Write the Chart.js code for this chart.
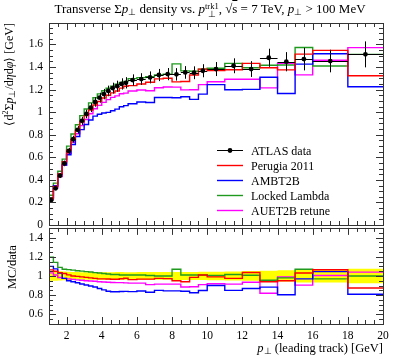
<!DOCTYPE html>
<html>
<head>
<meta charset="utf-8">
<script src="https://cdn.jsdelivr.net/npm/chart.js@4.4.1/dist/chart.umd.min.js"></script>
<style>
  body { margin: 0; background: #fff; }
  #wrap { position: relative; width: 397px; height: 358px; font-family: "Liberation Serif", serif; color: #000; overflow: hidden; }
  canvas { position: absolute; left: 0; }
  #title { position: absolute; top: 1px; left: 0; width: 420px; text-align: center; font-size: 13px; white-space: nowrap; }
  #xt { position: absolute; right: 14px; top: 341px; font-size: 12.5px; white-space: nowrap; }
  #yt { position: absolute; left: 2px; top: 223px; width: 200px; text-align: right; font-size: 12px; white-space: nowrap;
        transform-origin: 0 0; transform: rotate(-90deg); }
  #rt { position: absolute; left: 5px; top: 289px; width: 80px; text-align: left; font-size: 12.5px; white-space: nowrap;
        transform-origin: 0 0; transform: rotate(-90deg); }
  sub { font-size: 8.5px; vertical-align: -2px; line-height: 0; }
  sup { font-size: 8px; vertical-align: 5px; line-height: 0; }
  .ss { display: inline-block; vertical-align: -4px; line-height: 8px; font-size: 8.5px; }
  .ss span { display: block; }
  .ov { text-decoration: overline; }
</style>
</head>
<body>
<div id="wrap">
  <canvas id="main" width="397" height="245" style="top:0"></canvas>
  <canvas id="ratio" width="397" height="143" style="top:215px"></canvas>
  <div id="title">Transverse &Sigma;<i>p</i><sub>&perp;</sub> density vs. <i>p</i><span class="ss"><span>trk1</span><span>&perp;</span></span>, &radic;<span class="ov">s</span> = 7 TeV, <i>p</i><sub>&perp;</sub> &gt; 100 MeV</div>
  <div id="yt">&lang;d<sup>2</sup>&Sigma;<i>p</i><sub>&perp;</sub>/d<i>&eta;</i>d<i>&phi;</i>&rang; [GeV]</div>
  <div id="rt">MC/data</div>
  <div id="xt"><i>p</i><sub>&perp;</sub> (leading track) [GeV]</div>
</div>
<script>
// bin edges of leading track pT [GeV]
const ptEdges = [1.0, 1.25, 1.5, 1.75, 2.0, 2.25, 2.5, 2.75, 3.0, 3.25, 3.5, 3.75, 4.0, 4.25, 4.5, 4.75, 5.0, 5.25, 5.5,
                 6.0, 6.5, 7.0, 7.5, 8.0, 8.5, 9.0, 9.5, 10, 11, 12, 13, 14, 15, 16, 18, 20];

const atlasData = [0.221, 0.325, 0.437, 0.546, 0.656, 0.760, 0.843, 0.923, 0.984, 1.040, 1.090, 1.128, 1.160, 1.188, 1.213, 1.230, 1.250, 1.260,
                   1.284, 1.293, 1.308, 1.329, 1.337, 1.335, 1.352, 1.349, 1.367, 1.382, 1.411, 1.382, 1.482, 1.447, 1.470, 1.453, 1.512];
const atlasErr = [0.011, 0.016, 0.021, 0.025, 0.028, 0.031, 0.034, 0.036, 0.038, 0.040, 0.042, 0.044, 0.046, 0.047, 0.048, 0.049, 0.050, 0.050,
                  0.051, 0.052, 0.053, 0.054, 0.054, 0.055, 0.056, 0.057, 0.058, 0.062, 0.066, 0.070, 0.080, 0.085, 0.100, 0.100, 0.115];

const perugia2011 = [0.235, 0.341, 0.452, 0.560, 0.663, 0.760, 0.839, 0.914, 0.969, 1.019, 1.063, 1.094, 1.125, 1.150, 1.171, 1.187, 1.213, 1.229,
                     1.235, 1.250, 1.265, 1.295, 1.300, 1.268, 1.271, 1.329, 1.381, 1.368, 1.376, 1.432, 1.393, 1.375, 1.514, 1.547, 1.323];
const ambt2b = [0.243, 0.349, 0.450, 0.532, 0.623, 0.714, 0.784, 0.845, 0.891, 0.931, 0.965, 0.981, 0.992, 0.998, 1.013, 1.027, 1.048, 1.058,
                1.075, 1.090, 1.086, 1.130, 1.130, 1.128, 1.136, 1.113, 1.160, 1.244, 1.199, 1.202, 1.309, 1.165, 1.426, 1.518, 1.225];
const lockedLambda = [0.264, 0.371, 0.476, 0.584, 0.699, 0.806, 0.889, 0.969, 1.028, 1.082, 1.128, 1.162, 1.189, 1.212, 1.231, 1.248, 1.263, 1.273,
                      1.297, 1.306, 1.315, 1.329, 1.337, 1.428, 1.366, 1.362, 1.381, 1.389, 1.432, 1.393, 1.415, 1.418, 1.573, 1.409, 1.512];
const auet2bRetune = [0.228, 0.328, 0.430, 0.532, 0.636, 0.733, 0.809, 0.881, 0.935, 0.986, 1.030, 1.060, 1.087, 1.111, 1.131, 1.144, 1.163, 1.169,
                      1.188, 1.196, 1.190, 1.216, 1.223, 1.222, 1.197, 1.198, 1.244, 1.269, 1.291, 1.291, 1.215, 1.433, 1.330, 1.460, 1.572];

const mainYTicks = [0, 0.2, 0.4, 0.6, 0.8, 1, 1.2, 1.4, 1.6];
const ratioYTicks = [0.6, 0.8, 1, 1.2, 1.4];
const xTicks = [2, 4, 6, 8, 10, 12, 14, 16, 18, 20];

const FONT = '"Liberation Serif", serif';
const binCentres = atlasData.map((v, i) => (ptEdges[i] + ptEdges[i + 1]) / 2);

function steps(values) {
    let pts = values.map((v, i) => ({x: ptEdges[i], y: v}));
    pts.push({x: ptEdges[ptEdges.length - 1], y: values[values.length - 1]});
    return pts;
}

function toRatio(values) {
    return values.map((v, i) => v / atlasData[i]);
}

function mcLine(label, color, values) {
    return {
        type: 'line', label: label, data: steps(values), stepped: true,
        borderColor: color, borderWidth: 1.4, pointRadius: 0, fill: false
    };
}

// minor / major tick marks on all four sides, pointing inwards
function frameTicks(xMinorStep, xMajor, yMinorStep, yMajor) {
    return {
        id: 'frameTicks',
        afterDraw(chart) {
            const {ctx, chartArea: a, scales: {x, y}} = chart;
            const px = v => Math.round(v) + 0.5;
            ctx.save();
            ctx.strokeStyle = '#333';
            ctx.lineWidth = 1;
            ctx.beginPath();
            for (let v = x.min; v <= x.max + 1e-9; v += xMinorStep) {
                const len = xMajor.some(m => Math.abs(m - v) < 1e-6) ? 7 : 4;
                const p = px(x.getPixelForValue(v));
                ctx.moveTo(p, a.bottom); ctx.lineTo(p, a.bottom - len);
                ctx.moveTo(p, a.top); ctx.lineTo(p, a.top + len);
            }
            for (let v = y.min; v <= y.max + 1e-9; v += yMinorStep) {
                const len = yMajor.some(m => Math.abs(m - v) < 1e-6) ? 7 : 4;
                const p = px(y.getPixelForValue(v));
                ctx.moveTo(a.left, p); ctx.lineTo(a.left + len, p);
                ctx.moveTo(a.right, p); ctx.lineTo(a.right - len, p);
            }
            ctx.stroke();
            ctx.strokeRect(px(a.left), px(a.top), Math.round(a.right - a.left), Math.round(a.bottom - a.top));
            ctx.restore();
        }
    };
}

const errorBars = {
    id: 'errorBars',
    afterDatasetsDraw(chart) {
        const {ctx, scales: {x, y}} = chart;
        ctx.save();
        ctx.strokeStyle = '#000';
        ctx.lineWidth = 1;
        ctx.beginPath();
        atlasData.forEach((v, i) => {
            const yc = Math.round(y.getPixelForValue(v)) + 0.5;
            const xc = Math.round(x.getPixelForValue(binCentres[i])) + 0.5;
            ctx.moveTo(x.getPixelForValue(ptEdges[i]), yc);
            ctx.lineTo(x.getPixelForValue(ptEdges[i + 1]), yc);
            ctx.moveTo(xc, y.getPixelForValue(v + atlasErr[i]));
            ctx.lineTo(xc, y.getPixelForValue(v - atlasErr[i]));
        });
        ctx.stroke();
        ctx.restore();
    }
};

const legendBox = {
    id: 'legendBox',
    afterDraw(chart) {
        const ctx = chart.ctx;
        ctx.save();
        ctx.font = '12px ' + FONT;
        ctx.textBaseline = 'middle';
        chart.data.datasets.forEach((ds, i) => {
            const yy = 150.5 + i * 15;
            ctx.strokeStyle = ds.borderColor || '#000';
            ctx.lineWidth = i === 0 ? 1 : 1.4;
            ctx.beginPath();
            ctx.moveTo(217, yy);
            ctx.lineTo(243, yy);
            ctx.stroke();
            if (i === 0) {
                ctx.fillStyle = '#000';
                ctx.beginPath();
                ctx.arc(230, yy, 2.4, 0, Math.PI * 2);
                ctx.fill();
            }
            ctx.fillStyle = '#000';
            ctx.fillText(ds.label, 251, yy + 1);
        });
        ctx.restore();
    }
};

const tickFont = {family: FONT, size: 11.5};
const fmt = v => String(+Number(v).toFixed(2));

new Chart(document.getElementById('main').getContext('2d'), {
    data: {
        datasets: [
            {
                type: 'scatter', label: 'ATLAS data', borderColor: '#000',
                data: binCentres.map((c, i) => ({x: c, y: atlasData[i]})),
                pointRadius: 2.4, pointBackgroundColor: '#000', pointBorderWidth: 0, showLine: false
            },
            mcLine('Perugia 2011', '#ff0000', perugia2011),
            mcLine('AMBT2B', '#0000ff', ambt2b),
            mcLine('Locked Lambda', '#1f9a1f', lockedLambda),
            mcLine('AUET2B retune', '#ff00ff', auet2bRetune)
        ]
    },
    options: {
        responsive: false, animation: false, devicePixelRatio: 1,
        layout: {padding: {top: 23, right: 14, bottom: 20, left: 0}},
        plugins: {legend: {display: false}, tooltip: {enabled: false}},
        scales: {
            x: {type: 'linear', min: 1, max: 20, display: false},
            y: {
                type: 'linear', min: 0, max: 1.79,
                afterFit(s) { s.width = 49; },
                afterBuildTicks(s) { s.ticks = mainYTicks.map(v => ({value: v})); },
                ticks: {font: tickFont, color: '#000', padding: 6, callback: fmt},
                grid: {display: false, drawTicks: false},
                border: {display: false}
            }
        }
    },
    plugins: [errorBars, legendBox, frameTicks(0.5, xTicks, 0.05, mainYTicks)]
});

const relErr = atlasErr.map((e, i) => e / atlasData[i]);

new Chart(document.getElementById('ratio').getContext('2d'), {
    data: {
        datasets: [
            mcLine('Perugia 2011', '#ff0000', toRatio(perugia2011)),
            mcLine('AMBT2B', '#0000ff', toRatio(ambt2b)),
            mcLine('Locked Lambda', '#1f9a1f', toRatio(lockedLambda)),
            mcLine('AUET2B retune', '#ff00ff', toRatio(auet2bRetune)),
            {type: 'line', data: steps(relErr.map(r => 1 + r)), stepped: true, borderWidth: 0, pointRadius: 0, fill: false},
            {type: 'line', data: steps(relErr.map(r => 1 - r)), stepped: true, borderWidth: 0, pointRadius: 0,
             fill: '-1', backgroundColor: '#ffff00'}
        ]
    },
    options: {
        responsive: false, animation: false, devicePixelRatio: 1,
        layout: {padding: {top: 10, right: 14, bottom: 0, left: 0}},
        plugins: {legend: {display: false}, tooltip: {enabled: false}},
        scales: {
            x: {
                type: 'linear', min: 1, max: 20,
                afterFit(s) { s.height = 34; },
                afterBuildTicks(s) { s.ticks = xTicks.map(v => ({value: v})); },
                ticks: {font: tickFont, color: '#000', padding: 5, maxRotation: 0, autoSkip: false, callback: fmt},
                grid: {display: false, drawTicks: false},
                border: {display: false}
            },
            y: {
                type: 'linear', min: 0.5, max: 1.5,
                afterFit(s) { s.width = 49; },
                afterBuildTicks(s) { s.ticks = ratioYTicks.map(v => ({value: v})); },
                ticks: {font: tickFont, color: '#000', padding: 6, callback: fmt},
                grid: {display: false, drawTicks: false},
                border: {display: false}
            }
        }
    },
    plugins: [frameTicks(0.5, xTicks, 0.05, ratioYTicks)]
});
</script>
</body>
</html>
